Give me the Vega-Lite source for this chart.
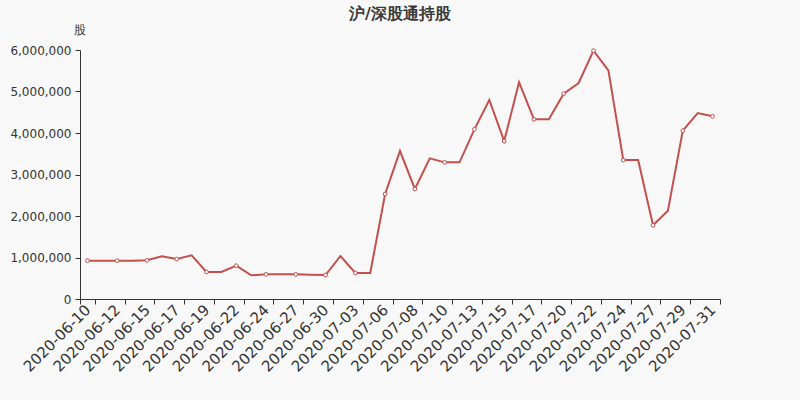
{
  "$schema": "https://vega.github.io/schema/vega-lite/v6.json",
  "width": 640,
  "height": 249,
  "autosize": {"type": "none"},
  "padding": {"left": 80, "top": 50, "right": 80, "bottom": 101},
  "background": "#f8f8f8",
  "title": {
    "text": "沪/深股通持股",
    "anchor": "middle",
    "frame": "group",
    "font": "DejaVu Sans",
    "fontSize": 16,
    "fontWeight": "bold",
    "color": "#3a3a3a",
    "offset": 1
  },
  "data": {
    "values": [
      {"date": "2020-06-10", "shares": 924000},
      {"date": "2020-06-11", "shares": 924000},
      {"date": "2020-06-12", "shares": 924000},
      {"date": "2020-06-13", "shares": 924000},
      {"date": "2020-06-15", "shares": 932000},
      {"date": "2020-06-16", "shares": 1028000},
      {"date": "2020-06-17", "shares": 964000},
      {"date": "2020-06-18", "shares": 1052000},
      {"date": "2020-06-19", "shares": 651000},
      {"date": "2020-06-20", "shares": 651000},
      {"date": "2020-06-22", "shares": 803000},
      {"date": "2020-06-23", "shares": 570000},
      {"date": "2020-06-24", "shares": 594000},
      {"date": "2020-06-25", "shares": 594000},
      {"date": "2020-06-27", "shares": 594000},
      {"date": "2020-06-28", "shares": 586000},
      {"date": "2020-06-30", "shares": 578000},
      {"date": "2020-07-01", "shares": 1036000},
      {"date": "2020-07-03", "shares": 627000},
      {"date": "2020-07-04", "shares": 627000},
      {"date": "2020-07-06", "shares": 2530000},
      {"date": "2020-07-07", "shares": 3566000},
      {"date": "2020-07-08", "shares": 2651000},
      {"date": "2020-07-09", "shares": 3390000},
      {"date": "2020-07-10", "shares": 3293000},
      {"date": "2020-07-11", "shares": 3293000},
      {"date": "2020-07-13", "shares": 4088000},
      {"date": "2020-07-14", "shares": 4795000},
      {"date": "2020-07-15", "shares": 3807000},
      {"date": "2020-07-16", "shares": 5221000},
      {"date": "2020-07-17", "shares": 4329000},
      {"date": "2020-07-18", "shares": 4329000},
      {"date": "2020-07-20", "shares": 4948000},
      {"date": "2020-07-21", "shares": 5205000},
      {"date": "2020-07-22", "shares": 5984000},
      {"date": "2020-07-23", "shares": 5510000},
      {"date": "2020-07-24", "shares": 3349000},
      {"date": "2020-07-25", "shares": 3349000},
      {"date": "2020-07-27", "shares": 1775000},
      {"date": "2020-07-28", "shares": 2128000},
      {"date": "2020-07-29", "shares": 4056000},
      {"date": "2020-07-30", "shares": 4482000},
      {"date": "2020-07-31", "shares": 4402000}
    ]
  },
  "transform": [
    {"window": [{"op": "row_number", "as": "idx"}]}
  ],
  "encoding": {
    "x": {
      "field": "date",
      "type": "nominal",
      "sort": null,
      "bandPosition": 0.5,
      "scale": {"type": "band", "paddingInner": 0, "paddingOuter": 0},
      "axis": {
        "title": null,
        "values": ["2020-06-10", "2020-06-12", "2020-06-15", "2020-06-17", "2020-06-19", "2020-06-22", "2020-06-24", "2020-06-27", "2020-06-30", "2020-07-03", "2020-07-06", "2020-07-08", "2020-07-10", "2020-07-13", "2020-07-15", "2020-07-17", "2020-07-20", "2020-07-22", "2020-07-24", "2020-07-27", "2020-07-29", "2020-07-31"],
        "tickBand": "extent",
        "labelAngle": -45,
        "labelAlign": "right",
        "labelBaseline": "middle",
        "labelPadding": 3,
        "labelFontSize": 15,
        "labelOverlap": false,
        "tickSize": 5
      }
    },
    "y": {
      "field": "shares",
      "type": "quantitative",
      "scale": {"domain": [0, 6000000]},
      "axis": {
        "title": "股",
        "titleAngle": 0,
        "titleAlign": "center",
        "titleBaseline": "middle",
        "titleX": -1,
        "titleY": -21,
        "titleFontSize": 12,
        "titleFontWeight": "normal",
        "values": [0, 1000000, 2000000, 3000000, 4000000, 5000000, 6000000],
        "format": ",d",
        "grid": false,
        "labelFontSize": 12,
        "labelPadding": 4,
        "tickSize": 5
      }
    }
  },
  "layer": [
    {
      "mark": {"type": "line", "color": "#c4504e", "strokeWidth": 2}
    },
    {
      "transform": [{"filter": "(datum.idx - 1) % 2 == 0"}],
      "mark": {"type": "point", "filled": true, "fill": "#ffffff", "stroke": "#c4504e", "strokeWidth": 1, "size": 14, "opacity": 1}
    }
  ],
  "config": {
    "font": "DejaVu Sans",
    "view": {"stroke": null},
    "axis": {
      "domainColor": "#333333",
      "tickColor": "#333333",
      "labelColor": "#333333",
      "titleColor": "#333333",
      "labelFont": "DejaVu Sans",
      "titleFont": "DejaVu Sans"
    }
  }
}
